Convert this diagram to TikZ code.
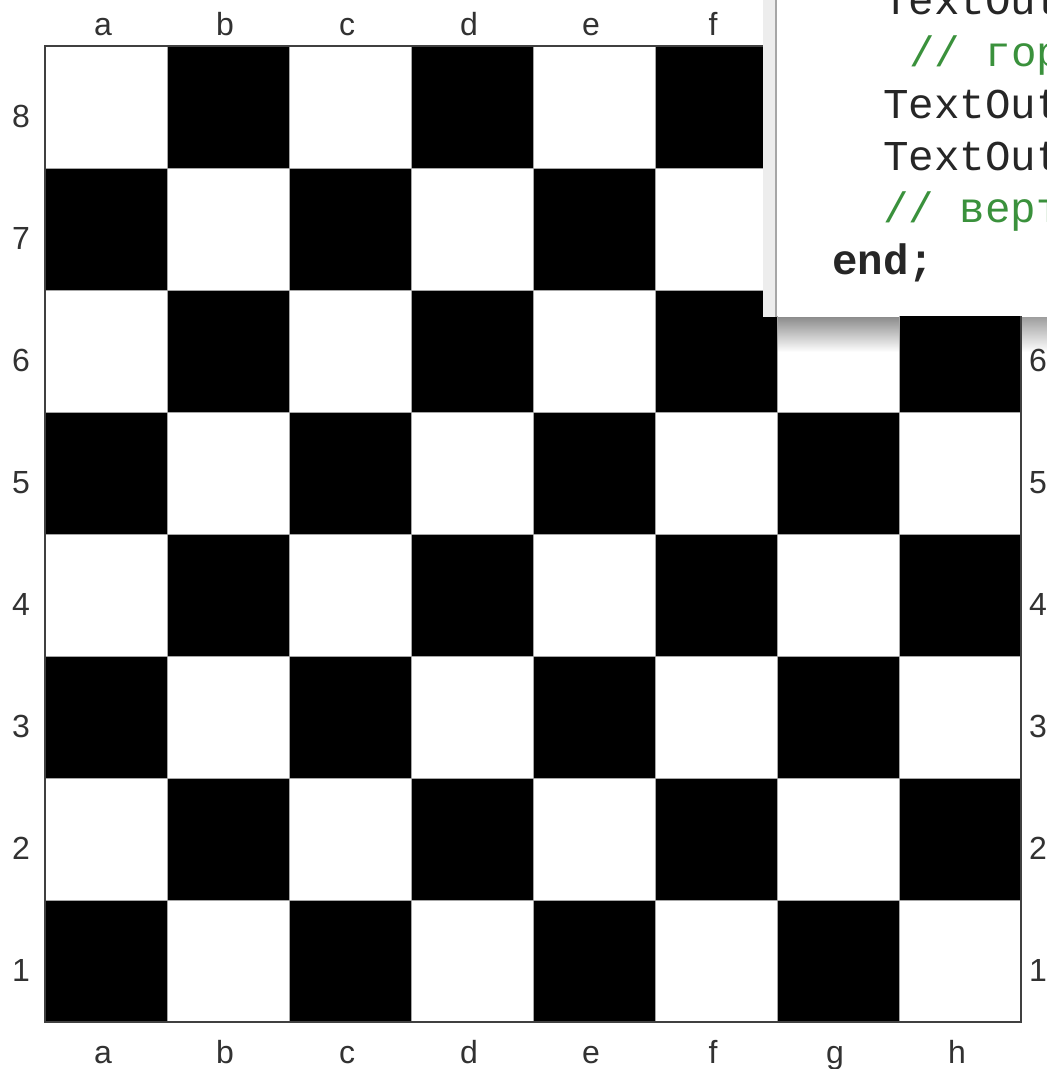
\documentclass[tikz,border=0pt]{standalone}
\usepackage{fontspec}
\setmainfont{Liberation Sans}
\newfontfamily\codefont{Liberation Mono}
\definecolor{cmtgreen}{RGB}{58,145,60}
\definecolor{labgray}{RGB}{50,50,50}
\begin{document}
\begin{tikzpicture}[x=1pt,y=-1pt,
  lab/.style={anchor=base, inner sep=0pt, text=labgray, font=\fontsize{32}{38}\selectfont},
  code/.style={anchor=base west, inner sep=0pt, text=black!85, font=\codefont\fontsize{42.5}{50}\selectfont},
  cmt/.style={code, text=cmtgreen},
  gridline/.style={draw=gray!70, line width=0.9pt}]
\useasboundingbox (0,0) rectangle (1047,1069);
\fill[white] (0,0) rectangle (1047,1069);
% squares
\foreach \i in {0,...,7} {
  \foreach \j in {0,...,7} {
    \pgfmathtruncatemacro\sqodd{mod(\i+\j,2)}
    \ifnum\sqodd=1
      \fill[black] ({45+122*\i},{46+122*\j}) rectangle ++(122,122);
    \fi
  }
}
% shadow below the code window (over the non-black parts)
\shade[top color=black!45, bottom color=white] (777,317) rectangle (899,352);
\shade[top color=black!38, bottom color=white] (1021,317) rectangle (1047,352);
% grid lines
\foreach \k in {1,...,7} {
  \draw[gridline] ({45+122*\k},46) -- ({45+122*\k},1022);
  \draw[gridline] (45,{46+122*\k}) -- (1021,{46+122*\k});
}
\draw[black!75, line width=1.6pt] (45,46) rectangle (1021,1022);
% file letters
\foreach \l [count=\k from 0] in {a,b,c,d,e,f,g,h} {
  \node[lab] (bot-\l) at ({103+122*\k},1063) {\l};
}
\foreach \l [count=\k from 0] in {a,b,c,d,e,f} {
  \node[lab] (top-\l) at ({103+122*\k},35) {\l};
}
% rank numbers
\foreach \n [count=\k from 0] in {8,7,6,5,4,3,2,1} {
  \node[lab] (left-\n) at (21,{127+122*\k}) {\n};
}
\foreach \n [count=\k from 2] in {6,5,4,3,2,1} {
  \node[lab] (right-\n) at (1038,{127+122*\k}) {\n};
}
% code window
\fill[black!7] (763,0) rectangle (777,317);
\fill[white] (777,0) rectangle (1047,316);
\draw[black!35, line width=2pt] (776,0) -- (776,317);
\begin{scope}
  \clip (777,0) rectangle (1047,316);
  \node[code] (c1) at (883,14) {TextOut};
  \node[cmt]  (c2) at (909,66) {// гор};
  \node[code] (c3) at (883,118) {TextOut};
  \node[code] (c4) at (883,170) {TextOut};
  \node[cmt]  (c5) at (883,222) {// верт};
  \node[code, font=\codefont\bfseries\fontsize{42.5}{50}\selectfont] (c6) at (832,274) {end;};
\end{scope}
\end{tikzpicture}
\end{document}
